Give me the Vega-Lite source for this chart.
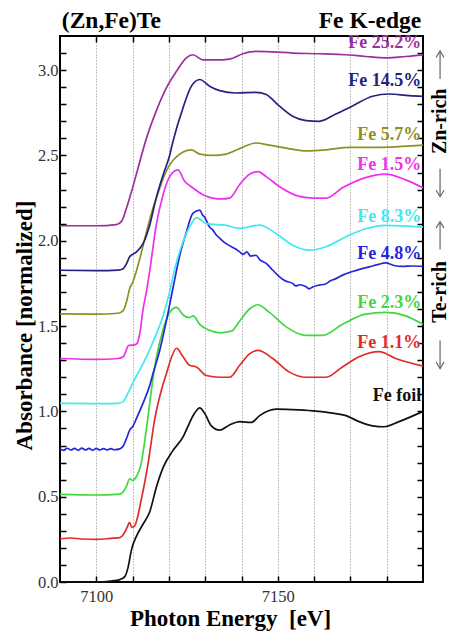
{
"$schema":"https://vega.github.io/schema/vega-lite/v6.json",
"width":363,"height":546,"autosize":"none",
"padding":{"left":60,"top":36,"right":26,"bottom":49},
"background":"white",
"config":{"view":{"stroke":"black","strokeWidth":2},
"axis":{"domain":false,"tickColor":"black","tickWidth":1.5,"tickSize":-6,"labelFont":"Liberation Serif","labelFontSize":16.5,"labelColor":"#333","titleFont":"Liberation Serif","titleFontSize":23,"titleFontWeight":"bold","titleColor":"black","grid":false}},
"datasets":{
"curves":[
{"s":"Fe foil","x":7090,"y":0.0},{"s":"Fe foil","x":7100,"y":0.0},{"s":"Fe foil","x":7104,"y":0.005},{"s":"Fe foil","x":7106.5,"y":0.014},{"s":"Fe foil","x":7107.9,"y":0.033},{"s":"Fe foil","x":7108.8,"y":0.09},{"s":"Fe foil","x":7109.7,"y":0.19},{"s":"Fe foil","x":7111.1,"y":0.27},{"s":"Fe foil","x":7112.9,"y":0.34},{"s":"Fe foil","x":7114.7,"y":0.41},{"s":"Fe foil","x":7116.6,"y":0.56},{"s":"Fe foil","x":7118.4,"y":0.67},{"s":"Fe foil","x":7121.1,"y":0.77},{"s":"Fe foil","x":7123.9,"y":0.85},{"s":"Fe foil","x":7125.3,"y":0.915},{"s":"Fe foil","x":7127.1,"y":0.99},{"s":"Fe foil","x":7128.5,"y":1.02},{"s":"Fe foil","x":7129.8,"y":0.99},{"s":"Fe foil","x":7131.7,"y":0.915},{"s":"Fe foil","x":7134,"y":0.89},{"s":"Fe foil","x":7136.7,"y":0.92},{"s":"Fe foil","x":7139.5,"y":0.94},{"s":"Fe foil","x":7142.7,"y":0.935},{"s":"Fe foil","x":7145,"y":0.975},{"s":"Fe foil","x":7149.5,"y":1.013},{"s":"Fe foil","x":7154.1,"y":1.01},{"s":"Fe foil","x":7159.6,"y":1.003},{"s":"Fe foil","x":7165.1,"y":0.99},{"s":"Fe foil","x":7168.8,"y":0.975},{"s":"Fe foil","x":7172.4,"y":0.94},{"s":"Fe foil","x":7176.1,"y":0.915},{"s":"Fe foil","x":7179.3,"y":0.91},{"s":"Fe foil","x":7183.4,"y":0.94},{"s":"Fe foil","x":7190,"y":1.0},

{"s":"Fe 1.1%","x":7090,"y":0.253},{"s":"Fe 1.1%","x":7093,"y":0.258},{"s":"Fe 1.1%","x":7096,"y":0.252},{"s":"Fe 1.1%","x":7100,"y":0.25},{"s":"Fe 1.1%","x":7104,"y":0.256},{"s":"Fe 1.1%","x":7106.5,"y":0.26},{"s":"Fe 1.1%","x":7107.5,"y":0.28},{"s":"Fe 1.1%","x":7108.5,"y":0.32},{"s":"Fe 1.1%","x":7109.1,"y":0.35},{"s":"Fe 1.1%","x":7109.8,"y":0.32},{"s":"Fe 1.1%","x":7110.6,"y":0.33},{"s":"Fe 1.1%","x":7112.4,"y":0.484},{"s":"Fe 1.1%","x":7114.3,"y":0.70},{"s":"Fe 1.1%","x":7116.1,"y":0.955},{"s":"Fe 1.1%","x":7118,"y":1.13},{"s":"Fe 1.1%","x":7119.3,"y":1.22},{"s":"Fe 1.1%","x":7120.6,"y":1.31},{"s":"Fe 1.1%","x":7122.1,"y":1.37},{"s":"Fe 1.1%","x":7123.9,"y":1.32},{"s":"Fe 1.1%","x":7125.7,"y":1.27},{"s":"Fe 1.1%","x":7127.6,"y":1.26},{"s":"Fe 1.1%","x":7130.3,"y":1.21},{"s":"Fe 1.1%","x":7134,"y":1.20},{"s":"Fe 1.1%","x":7136.7,"y":1.2},{"s":"Fe 1.1%","x":7139.5,"y":1.27},{"s":"Fe 1.1%","x":7142.2,"y":1.337},{"s":"Fe 1.1%","x":7144.5,"y":1.357},{"s":"Fe 1.1%","x":7148.6,"y":1.31},{"s":"Fe 1.1%","x":7153.2,"y":1.23},{"s":"Fe 1.1%","x":7157.8,"y":1.20},{"s":"Fe 1.1%","x":7163.3,"y":1.20},{"s":"Fe 1.1%","x":7167.8,"y":1.26},{"s":"Fe 1.1%","x":7172.4,"y":1.32},{"s":"Fe 1.1%","x":7177.9,"y":1.35},{"s":"Fe 1.1%","x":7182.5,"y":1.31},{"s":"Fe 1.1%","x":7190,"y":1.265},

{"s":"Fe 2.3%","x":7090,"y":0.513},{"s":"Fe 2.3%","x":7100,"y":0.51},{"s":"Fe 2.3%","x":7106.5,"y":0.515},{"s":"Fe 2.3%","x":7107.5,"y":0.53},{"s":"Fe 2.3%","x":7108.3,"y":0.56},{"s":"Fe 2.3%","x":7109.2,"y":0.605},{"s":"Fe 2.3%","x":7110.1,"y":0.595},{"s":"Fe 2.3%","x":7110.8,"y":0.61},{"s":"Fe 2.3%","x":7112.4,"y":0.70},{"s":"Fe 2.3%","x":7113.8,"y":0.896},{"s":"Fe 2.3%","x":7115.6,"y":1.19},{"s":"Fe 2.3%","x":7116.5,"y":1.31},{"s":"Fe 2.3%","x":7118.4,"y":1.48},{"s":"Fe 2.3%","x":7120.2,"y":1.58},{"s":"Fe 2.3%","x":7122.1,"y":1.61},{"s":"Fe 2.3%","x":7123.9,"y":1.565},{"s":"Fe 2.3%","x":7125.7,"y":1.55},{"s":"Fe 2.3%","x":7126.7,"y":1.56},{"s":"Fe 2.3%","x":7128.5,"y":1.51},{"s":"Fe 2.3%","x":7131.2,"y":1.475},{"s":"Fe 2.3%","x":7134,"y":1.46},{"s":"Fe 2.3%","x":7137.2,"y":1.47},{"s":"Fe 2.3%","x":7139.5,"y":1.53},{"s":"Fe 2.3%","x":7142.2,"y":1.60},{"s":"Fe 2.3%","x":7144.5,"y":1.625},{"s":"Fe 2.3%","x":7147.7,"y":1.58},{"s":"Fe 2.3%","x":7152.3,"y":1.495},{"s":"Fe 2.3%","x":7157.8,"y":1.445},{"s":"Fe 2.3%","x":7162.4,"y":1.445},{"s":"Fe 2.3%","x":7167.8,"y":1.51},{"s":"Fe 2.3%","x":7174.2,"y":1.57},{"s":"Fe 2.3%","x":7179.7,"y":1.58},{"s":"Fe 2.3%","x":7185.2,"y":1.56},{"s":"Fe 2.3%","x":7190,"y":1.51},

{"s":"Fe 4.8%","x":7090,"y":0.78},{"s":"Fe 4.8%","x":7091,"y":0.772},{"s":"Fe 4.8%","x":7092,"y":0.784},{"s":"Fe 4.8%","x":7093,"y":0.774},{"s":"Fe 4.8%","x":7094,"y":0.783},{"s":"Fe 4.8%","x":7095,"y":0.772},{"s":"Fe 4.8%","x":7096,"y":0.785},{"s":"Fe 4.8%","x":7097,"y":0.774},{"s":"Fe 4.8%","x":7098,"y":0.783},{"s":"Fe 4.8%","x":7099,"y":0.772},{"s":"Fe 4.8%","x":7100,"y":0.783},{"s":"Fe 4.8%","x":7101,"y":0.774},{"s":"Fe 4.8%","x":7102,"y":0.782},{"s":"Fe 4.8%","x":7103,"y":0.774},{"s":"Fe 4.8%","x":7104,"y":0.782},{"s":"Fe 4.8%","x":7105,"y":0.775},{"s":"Fe 4.8%","x":7106.5,"y":0.78},{"s":"Fe 4.8%","x":7107.5,"y":0.80},{"s":"Fe 4.8%","x":7108.3,"y":0.84},{"s":"Fe 4.8%","x":7109.2,"y":0.89},{"s":"Fe 4.8%","x":7110,"y":0.91},{"s":"Fe 4.8%","x":7111.1,"y":0.96},{"s":"Fe 4.8%","x":7112.9,"y":1.05},{"s":"Fe 4.8%","x":7114.7,"y":1.15},{"s":"Fe 4.8%","x":7115.6,"y":1.22},{"s":"Fe 4.8%","x":7117.5,"y":1.36},{"s":"Fe 4.8%","x":7119.3,"y":1.53},{"s":"Fe 4.8%","x":7121.1,"y":1.72},{"s":"Fe 4.8%","x":7123,"y":1.915},{"s":"Fe 4.8%","x":7124.8,"y":2.05},{"s":"Fe 4.8%","x":7126.6,"y":2.16},{"s":"Fe 4.8%","x":7128.5,"y":2.18},{"s":"Fe 4.8%","x":7129.3,"y":2.15},{"s":"Fe 4.8%","x":7129.8,"y":2.14},{"s":"Fe 4.8%","x":7130.5,"y":2.11},{"s":"Fe 4.8%","x":7131.2,"y":2.08},{"s":"Fe 4.8%","x":7132,"y":2.065},{"s":"Fe 4.8%","x":7133,"y":2.035},{"s":"Fe 4.8%","x":7134,"y":2.015},{"s":"Fe 4.8%","x":7135,"y":1.995},{"s":"Fe 4.8%","x":7136,"y":1.98},{"s":"Fe 4.8%","x":7137.6,"y":1.96},{"s":"Fe 4.8%","x":7138.5,"y":1.95},{"s":"Fe 4.8%","x":7139.5,"y":1.935},{"s":"Fe 4.8%","x":7140.4,"y":1.92},{"s":"Fe 4.8%","x":7141.5,"y":1.935},{"s":"Fe 4.8%","x":7142.5,"y":1.91},{"s":"Fe 4.8%","x":7144,"y":1.915},{"s":"Fe 4.8%","x":7145,"y":1.89},{"s":"Fe 4.8%","x":7146.8,"y":1.867},{"s":"Fe 4.8%","x":7148.5,"y":1.83},{"s":"Fe 4.8%","x":7150.4,"y":1.79},{"s":"Fe 4.8%","x":7152,"y":1.765},{"s":"Fe 4.8%","x":7154.1,"y":1.75},{"s":"Fe 4.8%","x":7155,"y":1.735},{"s":"Fe 4.8%","x":7156,"y":1.742},{"s":"Fe 4.8%","x":7157.8,"y":1.73},{"s":"Fe 4.8%","x":7158.7,"y":1.718},{"s":"Fe 4.8%","x":7159.5,"y":1.728},{"s":"Fe 4.8%","x":7161.4,"y":1.74},{"s":"Fe 4.8%","x":7163,"y":1.745},{"s":"Fe 4.8%","x":7164.5,"y":1.765},{"s":"Fe 4.8%","x":7166,"y":1.778},{"s":"Fe 4.8%","x":7168,"y":1.80},{"s":"Fe 4.8%","x":7170.6,"y":1.82},{"s":"Fe 4.8%","x":7173,"y":1.835},{"s":"Fe 4.8%","x":7175.2,"y":1.847},{"s":"Fe 4.8%","x":7177.5,"y":1.86},{"s":"Fe 4.8%","x":7179.7,"y":1.87},{"s":"Fe 4.8%","x":7182,"y":1.855},{"s":"Fe 4.8%","x":7184.3,"y":1.85},{"s":"Fe 4.8%","x":7187,"y":1.852},{"s":"Fe 4.8%","x":7190,"y":1.85},

{"s":"Fe 8.3%","x":7090,"y":1.047},{"s":"Fe 8.3%","x":7100,"y":1.045},{"s":"Fe 8.3%","x":7106,"y":1.047},{"s":"Fe 8.3%","x":7107.4,"y":1.057},{"s":"Fe 8.3%","x":7108.8,"y":1.11},{"s":"Fe 8.3%","x":7110.6,"y":1.19},{"s":"Fe 8.3%","x":7112.9,"y":1.28},{"s":"Fe 8.3%","x":7115.6,"y":1.406},{"s":"Fe 8.3%","x":7118.4,"y":1.56},{"s":"Fe 8.3%","x":7120.2,"y":1.70},{"s":"Fe 8.3%","x":7121.1,"y":1.79},{"s":"Fe 8.3%","x":7123.9,"y":1.994},{"s":"Fe 8.3%","x":7126.2,"y":2.10},{"s":"Fe 8.3%","x":7127.6,"y":2.135},{"s":"Fe 8.3%","x":7130.3,"y":2.10},{"s":"Fe 8.3%","x":7135.8,"y":2.09},{"s":"Fe 8.3%","x":7139.5,"y":2.073},{"s":"Fe 8.3%","x":7145,"y":2.092},{"s":"Fe 8.3%","x":7149.5,"y":2.043},{"s":"Fe 8.3%","x":7154.1,"y":1.974},{"s":"Fe 8.3%","x":7158.7,"y":1.945},{"s":"Fe 8.3%","x":7163.3,"y":1.965},{"s":"Fe 8.3%","x":7168.8,"y":2.024},{"s":"Fe 8.3%","x":7174.2,"y":2.07},{"s":"Fe 8.3%","x":7179.7,"y":2.09},{"s":"Fe 8.3%","x":7190,"y":2.08},

{"s":"Fe 1.5%","x":7090,"y":1.31},{"s":"Fe 1.5%","x":7100,"y":1.305},{"s":"Fe 1.5%","x":7106,"y":1.31},{"s":"Fe 1.5%","x":7107.4,"y":1.32},{"s":"Fe 1.5%","x":7108.3,"y":1.36},{"s":"Fe 1.5%","x":7108.8,"y":1.386},{"s":"Fe 1.5%","x":7110.5,"y":1.39},{"s":"Fe 1.5%","x":7111.3,"y":1.40},{"s":"Fe 1.5%","x":7112,"y":1.46},{"s":"Fe 1.5%","x":7112.9,"y":1.60},{"s":"Fe 1.5%","x":7113.8,"y":1.70},{"s":"Fe 1.5%","x":7114.7,"y":1.82},{"s":"Fe 1.5%","x":7116.5,"y":2.09},{"s":"Fe 1.5%","x":7118.4,"y":2.27},{"s":"Fe 1.5%","x":7120.2,"y":2.376},{"s":"Fe 1.5%","x":7122.5,"y":2.415},{"s":"Fe 1.5%","x":7124.3,"y":2.35},{"s":"Fe 1.5%","x":7126.6,"y":2.31},{"s":"Fe 1.5%","x":7129.4,"y":2.27},{"s":"Fe 1.5%","x":7132.1,"y":2.25},{"s":"Fe 1.5%","x":7134.5,"y":2.245},{"s":"Fe 1.5%","x":7136.7,"y":2.25},{"s":"Fe 1.5%","x":7139.5,"y":2.33},{"s":"Fe 1.5%","x":7142.2,"y":2.39},{"s":"Fe 1.5%","x":7144.5,"y":2.405},{"s":"Fe 1.5%","x":7146.8,"y":2.376},{"s":"Fe 1.5%","x":7150.4,"y":2.318},{"s":"Fe 1.5%","x":7155.9,"y":2.26},{"s":"Fe 1.5%","x":7160,"y":2.25},{"s":"Fe 1.5%","x":7163.3,"y":2.25},{"s":"Fe 1.5%","x":7167.8,"y":2.31},{"s":"Fe 1.5%","x":7174.2,"y":2.37},{"s":"Fe 1.5%","x":7179.7,"y":2.39},{"s":"Fe 1.5%","x":7185.2,"y":2.357},{"s":"Fe 1.5%","x":7190,"y":2.31},

{"s":"Fe 5.7%","x":7090,"y":1.572},{"s":"Fe 5.7%","x":7100,"y":1.57},{"s":"Fe 5.7%","x":7106,"y":1.575},{"s":"Fe 5.7%","x":7107.4,"y":1.59},{"s":"Fe 5.7%","x":7108.3,"y":1.64},{"s":"Fe 5.7%","x":7109.2,"y":1.72},{"s":"Fe 5.7%","x":7110.1,"y":1.76},{"s":"Fe 5.7%","x":7112,"y":1.896},{"s":"Fe 5.7%","x":7113.8,"y":2.05},{"s":"Fe 5.7%","x":7115.6,"y":2.19},{"s":"Fe 5.7%","x":7117.5,"y":2.31},{"s":"Fe 5.7%","x":7119.3,"y":2.41},{"s":"Fe 5.7%","x":7121.1,"y":2.47},{"s":"Fe 5.7%","x":7122,"y":2.49},{"s":"Fe 5.7%","x":7123.9,"y":2.52},{"s":"Fe 5.7%","x":7126.2,"y":2.533},{"s":"Fe 5.7%","x":7128.5,"y":2.508},{"s":"Fe 5.7%","x":7132.1,"y":2.50},{"s":"Fe 5.7%","x":7135.8,"y":2.508},{"s":"Fe 5.7%","x":7139.5,"y":2.54},{"s":"Fe 5.7%","x":7144,"y":2.573},{"s":"Fe 5.7%","x":7147.7,"y":2.56},{"s":"Fe 5.7%","x":7152.3,"y":2.543},{"s":"Fe 5.7%","x":7157.8,"y":2.527},{"s":"Fe 5.7%","x":7163.3,"y":2.533},{"s":"Fe 5.7%","x":7169.7,"y":2.547},{"s":"Fe 5.7%","x":7177,"y":2.547},{"s":"Fe 5.7%","x":7190,"y":2.56},

{"s":"Fe 14.5%","x":7090,"y":1.827},{"s":"Fe 14.5%","x":7100,"y":1.825},{"s":"Fe 14.5%","x":7106,"y":1.828},{"s":"Fe 14.5%","x":7107.4,"y":1.836},{"s":"Fe 14.5%","x":7108.3,"y":1.865},{"s":"Fe 14.5%","x":7109.2,"y":1.906},{"s":"Fe 14.5%","x":7111.1,"y":1.935},{"s":"Fe 14.5%","x":7112.9,"y":1.984},{"s":"Fe 14.5%","x":7114.7,"y":2.09},{"s":"Fe 14.5%","x":7116.5,"y":2.25},{"s":"Fe 14.5%","x":7118.4,"y":2.386},{"s":"Fe 14.5%","x":7120.2,"y":2.50},{"s":"Fe 14.5%","x":7121.1,"y":2.58},{"s":"Fe 14.5%","x":7123.9,"y":2.78},{"s":"Fe 14.5%","x":7126.2,"y":2.906},{"s":"Fe 14.5%","x":7128.5,"y":2.945},{"s":"Fe 14.5%","x":7131.2,"y":2.906},{"s":"Fe 14.5%","x":7134,"y":2.88},{"s":"Fe 14.5%","x":7138.5,"y":2.866},{"s":"Fe 14.5%","x":7144,"y":2.87},{"s":"Fe 14.5%","x":7146.8,"y":2.857},{"s":"Fe 14.5%","x":7150.4,"y":2.79},{"s":"Fe 14.5%","x":7154.1,"y":2.73},{"s":"Fe 14.5%","x":7157.8,"y":2.704},{"s":"Fe 14.5%","x":7161.4,"y":2.70},{"s":"Fe 14.5%","x":7166,"y":2.743},{"s":"Fe 14.5%","x":7170.6,"y":2.79},{"s":"Fe 14.5%","x":7176.1,"y":2.847},{"s":"Fe 14.5%","x":7180.7,"y":2.86},{"s":"Fe 14.5%","x":7186.2,"y":2.85},{"s":"Fe 14.5%","x":7190,"y":2.847},

{"s":"Fe 25.2%","x":7090,"y":2.088},{"s":"Fe 25.2%","x":7100,"y":2.088},{"s":"Fe 25.2%","x":7105.5,"y":2.095},{"s":"Fe 25.2%","x":7107,"y":2.115},{"s":"Fe 25.2%","x":7108.3,"y":2.19},{"s":"Fe 25.2%","x":7109.7,"y":2.288},{"s":"Fe 25.2%","x":7112,"y":2.465},{"s":"Fe 25.2%","x":7113.8,"y":2.60},{"s":"Fe 25.2%","x":7116.5,"y":2.76},{"s":"Fe 25.2%","x":7119.3,"y":2.896},{"s":"Fe 25.2%","x":7122.1,"y":2.994},{"s":"Fe 25.2%","x":7124.8,"y":3.072},{"s":"Fe 25.2%","x":7126.6,"y":3.09},{"s":"Fe 25.2%","x":7129.4,"y":3.06},{"s":"Fe 25.2%","x":7133,"y":3.06},{"s":"Fe 25.2%","x":7136.7,"y":3.065},{"s":"Fe 25.2%","x":7140.4,"y":3.096},{"s":"Fe 25.2%","x":7144,"y":3.11},{"s":"Fe 25.2%","x":7148.6,"y":3.107},{"s":"Fe 25.2%","x":7154.1,"y":3.1},{"s":"Fe 25.2%","x":7161.4,"y":3.096},{"s":"Fe 25.2%","x":7168.8,"y":3.09},{"s":"Fe 25.2%","x":7174.2,"y":3.08},{"s":"Fe 25.2%","x":7179.7,"y":3.072},{"s":"Fe 25.2%","x":7185.2,"y":3.08},{"s":"Fe 25.2%","x":7190,"y":3.09}
],
"labels":[
{"s":"Fe 25.2%","x":7189.5,"y":3.16},{"s":"Fe 14.5%","x":7189.5,"y":2.935},{"s":"Fe 5.7%","x":7189.5,"y":2.62},{"s":"Fe 1.5%","x":7189.5,"y":2.445},{"s":"Fe 8.3%","x":7189.5,"y":2.14},{"s":"Fe 4.8%","x":7189.5,"y":1.92},{"s":"Fe 2.3%","x":7189.5,"y":1.637},{"s":"Fe 1.1%","x":7189.5,"y":1.40},{"s":"Fe foil","x":7189.5,"y":1.088}
],
"headL":[{"t":"(Zn,Fe)Te","x":7090.5,"y":3.249}],
"headR":[{"t":"Fe K-edge","x":7189.5,"y":3.249}],
"rich":[{"t":"Zn-rich","x":7194.7,"y":2.70},{"t":"Te-rich","x":7194.7,"y":1.70}],
"arrowsUp":[{"x":7194.7,"y":3.112,"y2":2.948},{"x":7194.7,"y":2.112,"y2":1.948}],
"arrowsDown":[{"x":7194.7,"y":2.258,"y2":2.422},{"x":7194.7,"y":1.251,"y2":1.415}]
},
"resolve":{"axis":{"x":"independent","y":"independent"}},
"layer":[
{"data":{"name":"curves"},
"mark":{"type":"line","strokeWidth":1.7,"interpolate":"monotone"},
"encoding":{
"x":{"field":"x","type":"quantitative","scale":{"domain":[7090,7190],"nice":false,"zero":false},
"axis":{"orient":"bottom","values":[7100,7110,7120,7130,7140,7150,7160,7170,7180],"format":"d","labelExpr":"datum.value == 7100 || datum.value == 7150 ? datum.label : ''","labelPadding":12,"grid":true,"gridDash":[1,2],"gridColor":"#888","gridWidth":1,"title":"Photon Energy\u00a0 [eV]","titleX":170,"titleY":43,"titleBaseline":"alphabetic","labelOverlap":false}},
"y":{"field":"y","type":"quantitative","scale":{"domain":[0,3.2],"nice":false},
"axis":{"orient":"left","values":[0,0.1,0.2,0.3,0.4,0.5,0.6,0.7,0.8,0.9,1.0,1.1,1.2,1.3,1.4,1.5,1.6,1.7,1.8,1.9,2.0,2.1,2.2,2.3,2.4,2.5,2.6,2.7,2.8,2.9,3.0,3.1],"format":".1f","labelExpr":"round(datum.value*10) % 5 == 0 ? datum.label : ''","labelPadding":8,"labelOverlap":false,"title":"Absorbance [normalized]","titleX":-29,"titleY":289,"titleBaseline":"alphabetic"}},
"color":{"field":"s","type":"nominal","scale":{"domain":["Fe 25.2%","Fe 14.5%","Fe 5.7%","Fe 1.5%","Fe 8.3%","Fe 4.8%","Fe 2.3%","Fe 1.1%","Fe foil"],"range":["#9c2f9c","#23237f","#8f8f22","#ee30ee","#40e8f0","#2626d9","#3fd83f","#e02b2b","#111111"]},"legend":null}}},
{"data":{"name":"labels"},
"mark":{"type":"text","align":"right","baseline":"middle","font":"Liberation Serif","fontSize":18,"fontWeight":"bold"},
"encoding":{
"x":{"field":"x","type":"quantitative","axis":{"orient":"top","values":[7100,7110,7120,7130,7140,7150,7160,7170,7180],"labels":false,"title":null}},
"y":{"field":"y","type":"quantitative","axis":{"orient":"right","values":[0.1,0.2,0.3,0.4,0.5,0.6,0.7,0.8,0.9,1.0,1.1,1.2,1.3,1.4,1.5,1.6,1.7,1.8,1.9,2.0,2.1,2.2,2.3,2.4,2.5,2.6,2.7,2.8,2.9,3.0,3.1],"labels":false,"title":null}},
"text":{"field":"s"},
"color":{"field":"s","type":"nominal","legend":null}}},
{"data":{"name":"headL"},
"mark":{"type":"text","align":"left","baseline":"alphabetic","font":"Liberation Serif","fontSize":23.5,"fontWeight":"bold","color":"black"},
"encoding":{"x":{"field":"x","type":"quantitative","axis":null},"y":{"field":"y","type":"quantitative","axis":null},"text":{"field":"t"}}},
{"data":{"name":"headR"},
"mark":{"type":"text","align":"right","baseline":"alphabetic","font":"Liberation Serif","fontSize":23.5,"fontWeight":"bold","color":"black"},
"encoding":{"x":{"field":"x","type":"quantitative","axis":null},"y":{"field":"y","type":"quantitative","axis":null},"text":{"field":"t"}}},
{"data":{"name":"rich"},
"mark":{"type":"text","angle":270,"align":"center","baseline":"middle","font":"Liberation Serif","fontSize":20,"fontWeight":"bold","color":"black"},
"encoding":{"x":{"field":"x","type":"quantitative","axis":null},"y":{"field":"y","type":"quantitative","axis":null},"text":{"field":"t"}}},
{"data":{"name":"arrowsUp"},
"mark":{"type":"rule","color":"#666","strokeWidth":1.2},
"encoding":{"x":{"field":"x","type":"quantitative","axis":null},"y":{"field":"y","type":"quantitative","axis":null},"y2":{"field":"y2"}}},
{"data":{"name":"arrowsUp"},
"mark":{"type":"point","shape":"M-0.8,1.3L0,0L0.8,1.3","filled":false,"size":100,"color":"#666","strokeWidth":1.2,"opacity":1},
"encoding":{"x":{"field":"x","type":"quantitative","axis":null},"y":{"field":"y","type":"quantitative","axis":null}}},
{"data":{"name":"arrowsDown"},
"mark":{"type":"rule","color":"#666","strokeWidth":1.2},
"encoding":{"x":{"field":"x","type":"quantitative","axis":null},"y":{"field":"y","type":"quantitative","axis":null},"y2":{"field":"y2"}}},
{"data":{"name":"arrowsDown"},
"mark":{"type":"point","shape":"M-0.8,-1.3L0,0L0.8,-1.3","filled":false,"size":100,"color":"#666","strokeWidth":1.2,"opacity":1},
"encoding":{"x":{"field":"x","type":"quantitative","axis":null},"y":{"field":"y","type":"quantitative","axis":null}}}
]
}
